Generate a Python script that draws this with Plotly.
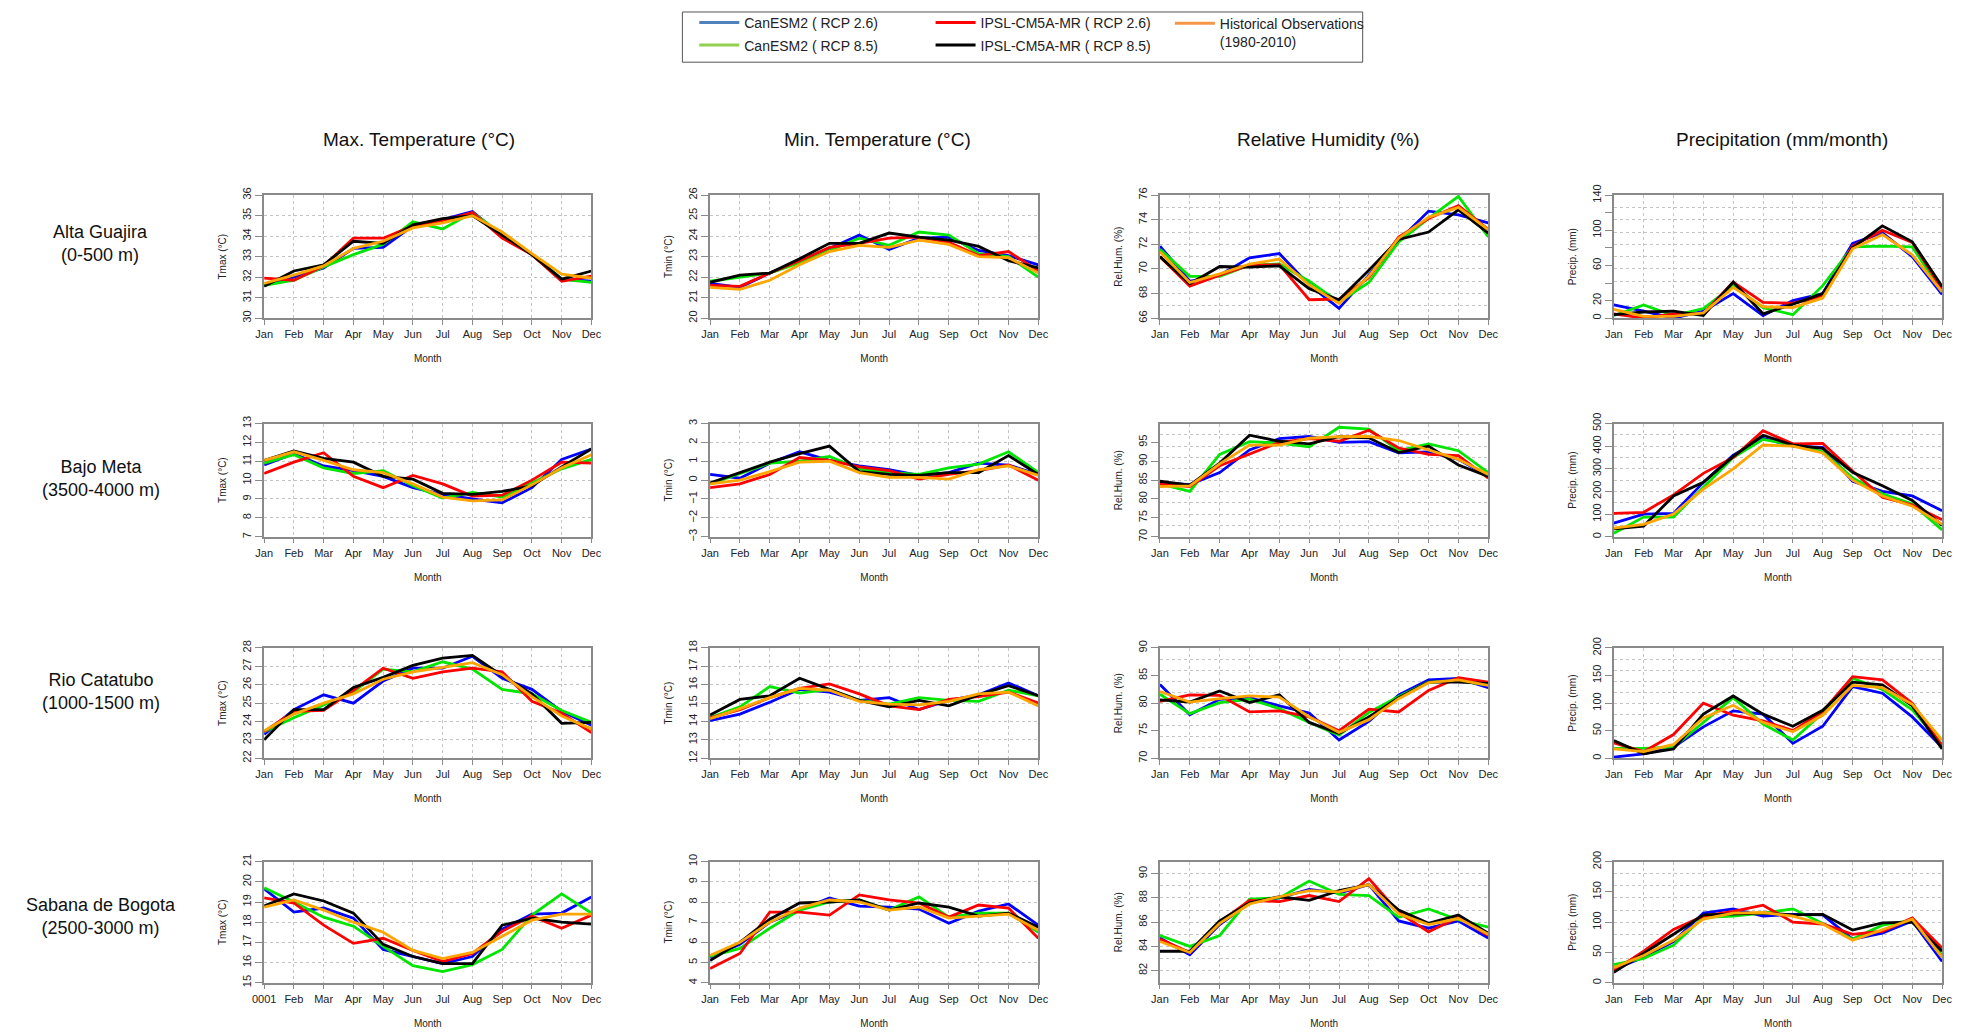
import plotly.graph_objects as go

# ---------------- data ----------------
months = ["Jan", "Feb", "Mar", "Apr", "May", "Jun", "Jul", "Aug", "Sep", "Oct", "Nov", "Dec"]
months_bogota_tmax = ["0001", "Feb", "Mar", "Apr", "May", "Jun", "Jul", "Aug", "Sep", "Oct", "Nov", "Dec"]

series_keys = ["can26", "can85", "ipsl26", "ipsl85", "obs"]
series_names = ["CanESM2 ( RCP 2.6)", "CanESM2 ( RCP 8.5)", "IPSL-CM5A-MR ( RCP 2.6)",
                "IPSL-CM5A-MR ( RCP 8.5)", "Historical Observations<br>(1980-2010)"]
line_colors = ["#0000ff", "#00e600", "#ff0000", "#000000", "#ffa500"]
legend_colors = ["#4f81bd", "#92d050", "#ff0000", "#000000", "#f79646"]

column_titles = ["Max. Temperature (°C)", "Min. Temperature (°C)", "Relative Humidity (%)", "Precipitation (mm/month)"]
row_titles = ["Alta Guajira<br>(0-500 m)", "Bajo Meta<br>(3500-4000 m)",
              "Rio Catatubo<br>(1000-1500 m)", "Sabana de Bogota<br>(2500-3000 m)"]
y_titles = ["Tmax (°C)", "Tmin (°C)", "Rel.Hum. (%)", "Precip. (mm)"]

# Alta Guajira
ag_tmax = dict(
    can26=[31.6, 32.0, 32.45, 33.4, 33.45, 34.5, 34.8, 35.2, 34.0, 33.1, 31.9, 31.8],
    can85=[31.6, 31.85, 32.5, 33.1, 33.6, 34.7, 34.35, 35.15, 34.1, 33.1, 31.9, 31.75],
    ipsl26=[31.95, 31.85, 32.55, 33.9, 33.9, 34.5, 34.75, 35.15, 33.9, 33.1, 31.8, 32.05],
    ipsl85=[31.55, 32.3, 32.6, 33.75, 33.65, 34.55, 34.85, 35.0, 34.05, 33.1, 31.9, 32.3],
    obs=[31.7, 32.1, 32.55, 33.4, 33.75, 34.4, 34.65, 35.0, 34.2, 33.15, 32.15, 31.95])
ag_tmin = dict(
    can26=[21.7, 21.5, 22.2, 22.75, 23.4, 24.05, 23.35, 23.9, 23.95, 23.3, 23.05, 22.6],
    can85=[21.8, 22.0, 22.2, 22.7, 23.3, 23.9, 23.55, 24.2, 24.05, 23.15, 23.0, 22.0],
    ipsl26=[21.6, 21.55, 22.2, 22.8, 23.45, 23.65, 23.9, 23.95, 23.7, 23.05, 23.25, 22.3],
    ipsl85=[21.75, 22.1, 22.2, 22.9, 23.65, 23.65, 24.15, 23.95, 23.8, 23.5, 22.8, 22.45],
    obs=[21.5, 21.4, 21.85, 22.6, 23.25, 23.55, 23.45, 23.8, 23.6, 23.0, 22.95, 22.2])
ag_rh = dict(
    can26=[71.85, 69.0, 69.5, 70.9, 71.25, 68.7, 66.8, 69.5, 72.3, 74.7, 74.4, 73.75],
    can85=[71.6, 69.4, 69.4, 70.3, 70.4, 69.0, 67.3, 68.9, 72.2, 74.1, 75.9, 72.6],
    ipsl26=[71.0, 68.6, 69.5, 70.3, 70.35, 67.5, 67.55, 69.3, 72.6, 74.1, 75.15, 73.2],
    ipsl85=[71.0, 68.8, 70.2, 70.15, 70.25, 68.4, 67.5, 69.9, 72.4, 73.0, 74.8, 72.9],
    obs=[71.4, 68.9, 69.6, 70.4, 70.8, 68.7, 67.2, 69.4, 72.5, 74.2, 75.0, 73.2])
ag_pr = dict(
    can26=[15, 8, 0, 8, 28, 3, 20, 28, 85, 97, 70, 27],
    can85=[3, 15, 3, 11, 37, 12, 4, 37, 81, 82, 81, 30],
    ipsl26=[5, 0, 5, 5, 41, 18, 17, 25, 82, 100, 86, 33],
    ipsl85=[4, 7, 8, 3, 41, 5, 16, 28, 80, 105, 87, 36],
    obs=[10, 2, 2, 6, 35, 13, 12, 23, 79, 95, 72, 30])

# Bajo Meta
bm_tmax = dict(
    can26=[10.8, 11.4, 10.75, 10.5, 10.2, 9.6, 9.25, 9.0, 8.8, 9.6, 11.1, 11.65],
    can85=[10.9, 11.35, 10.65, 10.35, 10.5, 9.7, 9.05, 9.35, 9.1, 9.85, 10.6, 11.1],
    ipsl26=[10.35, 10.95, 11.45, 10.2, 9.6, 10.25, 9.8, 9.15, 9.2, 10.0, 10.95, 10.9],
    ipsl85=[11.05, 11.55, 11.15, 10.95, 10.2, 10.05, 9.3, 9.25, 9.4, 9.7, 10.7, 11.65],
    obs=[11.05, 11.5, 11.05, 10.55, 10.4, 9.8, 9.1, 8.9, 8.95, 9.75, 10.65, 11.35])
bm_tmin = dict(
    can26=[0.3, 0.1, 0.9, 1.5, 1.05, 0.75, 0.55, 0.25, 0.4, 0.9, 0.8, 0.3],
    can85=[-0.2, 0.35, 0.9, 1.0, 1.25, 0.6, 0.4, 0.3, 0.65, 0.85, 1.5, 0.4],
    ipsl26=[-0.4, -0.2, 0.3, 1.2, 1.05, 0.7, 0.5, 0.05, 0.3, 0.5, 0.8, 0.0],
    ipsl85=[-0.15, 0.4, 0.95, 1.4, 1.8, 0.45, 0.3, 0.25, 0.4, 0.4, 1.3, 0.3],
    obs=[-0.2, 0.0, 0.45, 0.95, 1.0, 0.4, 0.15, 0.15, 0.05, 0.55, 0.75, 0.25])
bm_rh = dict(
    can26=[84.3, 83.8, 87.0, 93.0, 96.0, 96.6, 95.0, 95.2, 92.2, 92.5, 90.5, 86.0],
    can85=[84.0, 82.0, 91.8, 95.2, 94.8, 93.8, 99.0, 98.5, 92.8, 94.6, 92.8, 87.0],
    ipsl26=[84.0, 83.3, 88.8, 92.0, 95.0, 96.0, 95.3, 98.2, 93.5, 91.8, 91.5, 85.5],
    ipsl85=[84.7, 83.7, 89.5, 96.9, 95.3, 94.6, 96.5, 96.2, 92.3, 94.0, 89.0, 86.0],
    obs=[83.3, 83.5, 89.3, 94.3, 94.3, 96.1, 96.5, 96.6, 95.5, 93.0, 90.5, 86.5])
bm_pr = dict(
    can26=[60, 100, 103, 240, 360, 435, 400, 395, 245, 200, 180, 115],
    can85=[15, 87, 87, 220, 350, 430, 405, 375, 260, 190, 145, 30],
    ipsl26=[103, 108, 185, 280, 350, 468, 410, 412, 290, 175, 140, 75],
    ipsl85=[35, 47, 180, 240, 355, 448, 405, 390, 285, 225, 160, 50],
    obs=[38, 55, 100, 210, 300, 405, 400, 370, 250, 180, 135, 55])

# Rio Catatubo
rc_tmax = dict(
    can26=[23.3, 24.65, 25.45, 25.0, 26.2, 26.9, 26.9, 27.55, 26.35, 25.75, 24.55, 23.8],
    can85=[23.45, 24.2, 24.9, 25.6, 26.85, 26.7, 27.25, 26.85, 25.75, 25.5, 24.6, 23.95],
    ipsl26=[23.45, 24.55, 24.6, 25.7, 26.9, 26.35, 26.7, 26.9, 26.7, 25.1, 24.45, 23.4],
    ipsl85=[23.0, 24.65, 24.65, 25.85, 26.4, 27.05, 27.45, 27.6, 26.5, 25.5, 23.9, 23.95],
    obs=[23.5, 24.4, 25.0, 25.5, 26.3, 26.7, 26.95, 27.2, 26.55, 25.35, 24.3, 23.6])
rc_tmin = dict(
    can26=[14.05, 14.4, 15.05, 15.75, 15.6, 15.15, 15.3, 14.65, 15.15, 15.45, 16.1, 15.4],
    can85=[14.2, 14.8, 15.9, 15.55, 15.75, 15.15, 14.95, 15.3, 15.15, 15.1, 15.7, 15.4],
    ipsl26=[14.2, 14.65, 15.3, 15.8, 16.05, 15.5, 14.85, 14.65, 15.2, 15.35, 15.6, 15.0],
    ipsl85=[14.35, 15.2, 15.4, 16.35, 15.75, 15.15, 14.8, 15.15, 14.85, 15.45, 15.95, 15.4],
    obs=[14.15, 14.7, 15.3, 15.8, 15.7, 15.1, 14.95, 14.9, 15.1, 15.5, 15.6, 14.85])
rc_rh = dict(
    can26=[83.4, 77.9, 80.7, 81.0, 79.5, 78.2, 73.3, 76.7, 81.5, 84.2, 84.5, 82.8],
    can85=[81.6, 78.1, 80.1, 80.7, 79.0, 76.5, 74.2, 78.3, 81.2, 83.8, 84.0, 83.3],
    ipsl26=[80.3, 81.5, 81.4, 78.4, 78.6, 77.5, 75.0, 78.9, 78.4, 82.3, 84.6, 83.8],
    ipsl85=[80.6, 80.2, 82.2, 80.1, 81.5, 76.5, 74.5, 77.5, 81.0, 83.8, 83.8, 83.6],
    obs=[82.1, 80.2, 80.8, 81.3, 81.1, 77.5, 74.7, 77.0, 80.8, 83.7, 84.2, 83.2])
rc_pr = dict(
    can26=[2, 8, 20, 57, 86, 80, 27, 58, 130, 118, 75, 20],
    can85=[18, 18, 20, 65, 110, 62, 33, 82, 145, 125, 88, 25],
    ipsl26=[28, 12, 43, 100, 78, 68, 50, 85, 148, 142, 100, 22],
    ipsl85=[32, 8, 17, 80, 113, 80, 58, 87, 138, 133, 95, 17],
    obs=[17, 12, 25, 73, 96, 65, 48, 78, 132, 128, 98, 33])

# Sabana de Bogota
sb_tmax = dict(
    can26=[19.65, 18.5, 18.7, 18.2, 16.65, 16.3, 15.95, 16.3, 17.65, 18.4, 18.45, 19.25],
    can85=[19.7, 19.0, 18.25, 17.8, 16.8, 15.85, 15.55, 15.9, 16.65, 18.35, 19.4, 18.45],
    ipsl26=[19.2, 18.95, 17.85, 16.95, 17.2, 16.6, 16.05, 16.45, 17.55, 18.3, 17.7, 18.35],
    ipsl85=[18.8, 19.4, 19.05, 18.45, 16.9, 16.3, 15.95, 15.95, 17.85, 18.2, 18.0, 17.9],
    obs=[18.75, 19.1, 18.6, 18.0, 17.5, 16.6, 16.2, 16.5, 17.3, 18.1, 18.4, 18.4])
sb_tmin = dict(
    can26=[5.25, 5.9, 7.0, 7.6, 8.2, 7.8, 7.75, 7.65, 6.95, 7.55, 7.9, 6.85],
    can85=[5.3, 5.7, 6.7, 7.6, 8.0, 8.1, 7.6, 8.25, 7.25, 7.45, 7.45, 6.5],
    ipsl26=[4.7, 5.45, 7.5, 7.5, 7.35, 8.35, 8.1, 7.95, 7.25, 7.85, 7.7, 6.2],
    ipsl85=[5.1, 6.0, 7.15, 7.95, 8.0, 8.1, 7.6, 7.95, 7.75, 7.3, 7.45, 6.75],
    obs=[5.35, 6.0, 7.0, 7.7, 8.1, 8.0, 7.6, 7.75, 7.2, 7.3, 7.4, 6.6])
sb_rh = dict(
    can26=[84.7, 83.3, 85.8, 87.6, 88.0, 88.7, 88.4, 89.1, 86.1, 85.5, 86.1, 84.7],
    can85=[84.9, 84.0, 84.9, 87.9, 88.0, 89.4, 88.3, 88.2, 86.4, 87.1, 86.2, 85.6],
    ipsl26=[84.6, 83.5, 86.0, 87.8, 87.7, 88.2, 87.7, 89.6, 86.8, 85.2, 86.4, 84.9],
    ipsl85=[83.6, 83.6, 86.1, 87.6, 88.1, 87.8, 88.6, 89.1, 87.0, 85.9, 86.6, 85.1],
    obs=[84.4, 83.5, 85.9, 87.5, 88.1, 88.6, 88.5, 89.1, 86.7, 85.8, 86.3, 85.0])
sb_pr = dict(
    can26=[22, 42, 68, 115, 122, 110, 113, 112, 72, 82, 102, 35],
    can85=[30, 40, 62, 108, 110, 115, 122, 98, 72, 95, 103, 45],
    ipsl26=[20, 52, 88, 110, 118, 128, 100, 97, 80, 85, 107, 57],
    ipsl85=[17, 48, 80, 112, 113, 115, 112, 113, 87, 99, 100, 52],
    obs=[25, 45, 70, 105, 115, 116, 110, 97, 70, 88, 105, 42])

panels = [[ag_tmax, ag_tmin, ag_rh, ag_pr],
          [bm_tmax, bm_tmin, bm_rh, bm_pr],
          [rc_tmax, rc_tmin, rc_rh, rc_pr],
          [sb_tmax, sb_tmin, sb_rh, sb_pr]]


def rng(a, b, s):
    out, v = [], a
    while v <= b + 1e-9:
        out.append(round(v, 6))
        v += s
    return out


# y-axis specs: (min, max, tick values, tick labels, grid values)
y_specs = [
    [(30, 36, rng(30, 36, 1), None, rng(30, 36, 1)),
     (20, 26, rng(20, 26, 1), None, rng(20, 26, 1)),
     (66, 76, rng(66, 76, 2), None, rng(66, 76, 1)),
     (0, 140, rng(0, 140, 20), ["0", "20", "", "60", "", "100", "", "140"], rng(0, 140, 14))],
    [(7, 13, rng(7, 13, 1), None, rng(7, 13, 1)),
     (-3, 3, rng(-3, 3, 1), None, rng(-3, 3, 1)),
     (70, 100, rng(70, 95, 5), None, rng(70, 100, 3)),
     (0, 500, rng(0, 500, 100), None, rng(0, 500, 50))],
    [(22, 28, rng(22, 28, 1), None, rng(22, 28, 1)),
     (12, 18, rng(12, 18, 1), None, rng(12, 18, 1)),
     (70, 90, rng(70, 90, 5), None, rng(70, 90, 2)),
     (0, 200, rng(0, 200, 50), None, rng(0, 200, 20))],
    [(15, 21, rng(15, 21, 1), None, rng(15, 21, 1)),
     (4, 10, rng(4, 10, 1), None, rng(4, 10, 1)),
     (81, 91, rng(82, 90, 2), None, rng(81, 91, 1)),
     (0, 200, rng(0, 200, 50), None, rng(0, 200, 20))],
]

# ---------------- layout (pixel positions on the page) ----------------
W, H = 1961, 1034
col_px = [(255, 586), (706, 1038), (1161, 1493), (1620, 1952)]
row_px = [(187, 312), (419, 534), (647, 759), (864, 987)]
FONT = "Liberation Sans, Arial, sans-serif"
AXIS_COLOR = "#8a8a8a"
GRID_COLOR = "#c4c4c4"

fig = go.Figure()
xvals = list(range(1, len(months) + 1))
layout = dict()

for r in range(4):
    for c in range(4):
        k = r * 4 + c + 1
        sfx = "" if k == 1 else str(k)
        data = panels[r][c]
        for key, col in zip(series_keys, line_colors):
            fig.add_trace(go.Scatter(
                x=xvals, y=data[key], mode="lines",
                line=dict(color=col, width=2.8),
                showlegend=False, hoverinfo="skip",
                xaxis="x" + sfx, yaxis="y" + sfx))
        x0, x1 = col_px[c]
        y0, y1 = row_px[r]
        ticktext = months_bogota_tmax if (r == 3 and c == 0) else months
        layout["xaxis" + sfx] = dict(
            domain=[x0 / W, x1 / W], anchor="y" + sfx,
            range=[1, 12], tickmode="array", tickvals=xvals, ticktext=ticktext,
            showline=True, mirror=True, linecolor=AXIS_COLOR, linewidth=1.5,
            ticks="outside", ticklen=5, tickcolor=AXIS_COLOR, tickwidth=1,
            tickfont=dict(size=11, color="#222", family=FONT), tickangle=0,
            showgrid=True, gridcolor=GRID_COLOR, griddash="dot", gridwidth=1,
            zeroline=False,
            title=dict(text="Month", font=dict(size=10, color="#222", family=FONT), standoff=16))
        lo, hi, tv, tt, gv = y_specs[r][c]
        yax = dict(
            domain=[1 - y1 / H, 1 - y0 / H], anchor="x" + sfx,
            range=[lo, hi], tickmode="array", tickvals=tv,
            showline=True, mirror=True, linecolor=AXIS_COLOR, linewidth=1.5,
            ticks="outside", ticklen=7, tickcolor=AXIS_COLOR, tickwidth=1,
            tickfont=dict(size=11, color="#222", family=FONT), tickangle=-90,
            showgrid=False, zeroline=False,
            minor=dict(tickmode="array", tickvals=gv, showgrid=True, gridcolor=GRID_COLOR,
                       griddash="dot", gridwidth=1, ticks=""),
            title=dict(text=y_titles[c], font=dict(size=10, color="#222", family=FONT), standoff=12))
        if tt is not None:
            yax["ticktext"] = tt
        layout["yaxis" + sfx] = yax

# legend-only entries (colours as in the original legend box)
legend_ids = ["legend", "legend2", "legend3", "legend4", "legend5"]
for name, col, lid in zip(series_names, legend_colors, legend_ids):
    fig.add_trace(go.Scatter(x=[None], y=[None], mode="lines", name=name,
                             line=dict(color=col, width=3), legend=lid, hoverinfo="skip"))

# text start x (px) and centre y (px) of each legend entry
ITEM_W = 40
legend_pos = [(740, 12), (740, 35), (979, 12), (979, 35), (1221, 22)]
for lid, (tx, ty) in zip(legend_ids, legend_pos):
    layout[lid] = dict(x=(tx - ITEM_W - 10) / W, xanchor="left", y=1 - ty / H, yanchor="middle",
                       bgcolor="rgba(0,0,0,0)", borderwidth=0, itemwidth=ITEM_W, valign="top",
                       font=dict(size=14, color="#222", family=FONT))

annotations = []
title_x = [412, 875, 1331, 1790]
for c, t in enumerate(column_titles):
    annotations.append(dict(text=t, x=title_x[c] / W, y=1 - 131 / H, xref="paper", yref="paper",
                            xanchor="center", yanchor="middle", showarrow=False,
                            font=dict(size=19, color="#111", family=FONT)))
row_label_y = [236, 475, 691, 920]
for r, t in enumerate(row_titles):
    annotations.append(dict(text=t, x=90 / W, y=1 - row_label_y[r] / H, xref="paper", yref="paper",
                            xanchor="center", yanchor="middle", showarrow=False, align="center",
                            font=dict(size=18, color="#111", family=FONT)))

shapes = [dict(type="rect", xref="paper", yref="paper",
               x0=678 / W, x1=1366 / W, y0=1 - 52 / H, y1=1 - 1 / H,
               line=dict(color="#555", width=1), fillcolor="rgba(0,0,0,0)")]

fig.update_layout(
    width=W, height=H, margin=dict(l=0, r=0, t=0, b=0),
    paper_bgcolor="white", plot_bgcolor="white",
    font=dict(family=FONT, color="#222"),
    annotations=annotations, shapes=shapes, **layout)

fig.write_html("out.html", config={"displayModeBar": False},
               post_script="document.body.style.margin='0';")
